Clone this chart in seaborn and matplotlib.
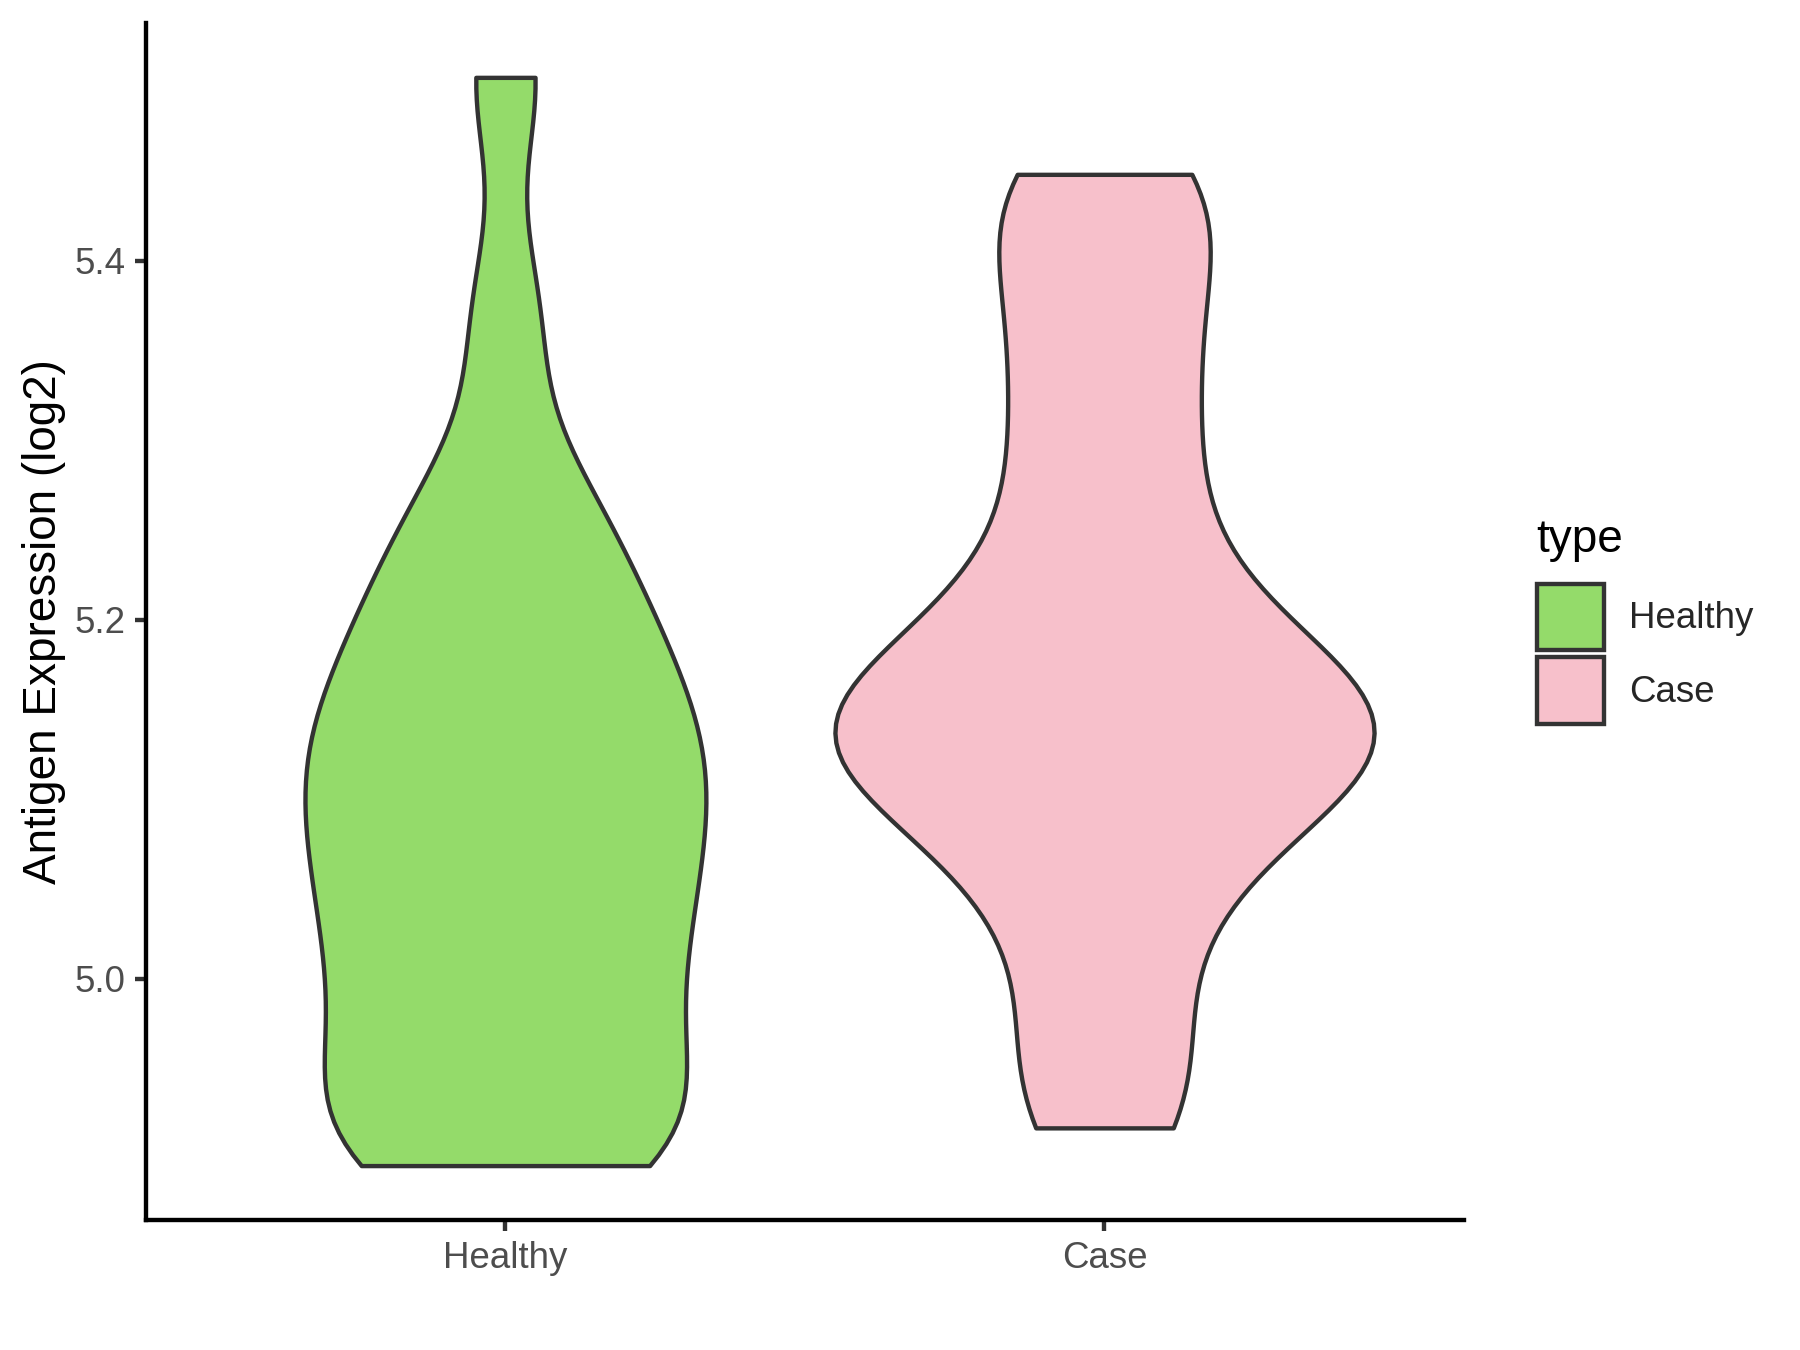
import matplotlib
matplotlib.use("Agg")
import matplotlib.pyplot as plt
from matplotlib.patches import Patch
import seaborn as sns
import pandas as pd

# Werte (log2), aus dem Bild geschaetzt
healthy = [4.896, 4.899, 4.908, 4.923, 4.944, 4.966, 4.987, 5.006, 5.024, 5.042, 5.06, 5.077,
           5.094, 5.11, 5.125, 5.14, 5.157, 5.177, 5.198, 5.22, 5.25, 5.28, 5.37, 5.502]
case = [4.917, 4.965, 5.025, 5.07, 5.095, 5.115, 5.13, 5.14, 5.15, 5.165,
        5.19, 5.22, 5.27, 5.32, 5.37, 5.42, 5.448]
groups = ["Healthy", "Case"]
colors = ["#94DB6A", "#F7C0CB"]
yticks = [5.0, 5.2, 5.4]

df = pd.DataFrame({
    "type": ["Healthy"] * len(healthy) + ["Case"] * len(case),
    "value": healthy + case,
})

sns.set_style("ticks")
plt.rcParams["font.family"] = ["Liberation Sans", "DejaVu Sans"]

fig = plt.figure(figsize=(6, 4.5), dpi=300)
ax = fig.add_axes([0.0811, 0.0963, 0.7322, 0.8867])

sns.violinplot(data=df, x="type", y="value", hue="type", order=groups, hue_order=groups,
               palette=colors, saturation=1, cut=0, inner=None, bw_method=0.3,
               width=0.9, linewidth=1.05, linecolor="#333333", density_norm="area",
               common_norm=True, ax=ax)
if ax.get_legend() is not None:
    ax.get_legend().remove()

# Achsen wie ggplot theme_classic
lo, hi = df["value"].min(), df["value"].max()
pad = 0.05 * (hi - lo)
ax.set_ylim(lo - pad, hi + pad)
ax.set_xlim(-0.6, 1.6)
ax.set_yticks(yticks)
ax.set_yticklabels([f"{t:.1f}" for t in yticks])
ax.set_xlabel("")
ax.set_ylabel("Antigen Expression (log2)", fontsize=11, color="black", labelpad=2)
ax.tick_params(labelsize=8.8, labelcolor="#4D4D4D", color="#333333",
               length=2.75, width=1.05, pad=2.2)
sns.despine(ax=ax)
for s in ["left", "bottom"]:
    ax.spines[s].set_linewidth(1.05)
    ax.spines[s].set_color("black")

# Legende rechts
fig.text(0.8533, 0.6003, "type", fontsize=11, color="black", ha="left", va="center")
handles = [Patch(facecolor=c, edgecolor="#333333", linewidth=1.05) for c in colors]
fig.legend(handles, groups, loc="center left",
           bbox_to_anchor=(0.8435, 0.5157), frameon=False, fontsize=8.8,
           handlelength=1.83, handleheight=2.41,
           labelspacing=0.19, handletextpad=0.7, borderpad=0)

fig.savefig("out.png", dpi=300)
